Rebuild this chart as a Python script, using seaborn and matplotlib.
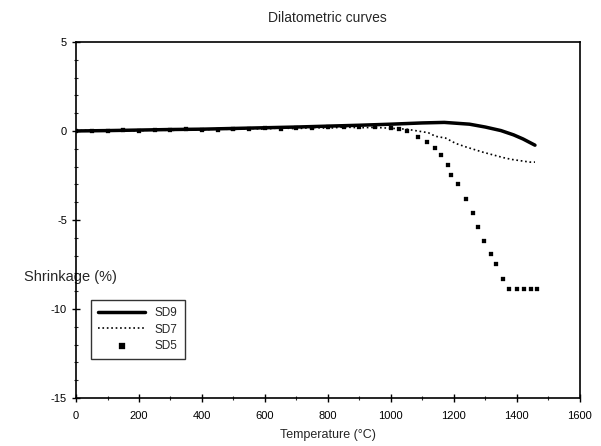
import matplotlib
matplotlib.use("Agg")
import matplotlib.pyplot as plt
from matplotlib.ticker import MultipleLocator
import pandas as pd
import seaborn as sns

# values
sd9_temp = [0, 100, 200, 300, 400, 500, 600, 700, 800, 900, 1000, 1100, 1170,
            1250, 1300, 1350, 1390, 1420, 1458]
sd9_shrink = [0.0, 0.02, 0.05, 0.08, 0.1, 0.14, 0.18, 0.22, 0.27, 0.32, 0.38, 0.45, 0.48,
              0.38, 0.22, 0.02, -0.22, -0.45, -0.8]

sd7_temp = [0, 50, 100, 150, 200, 250, 300, 350, 400, 450, 500, 550, 600, 650, 700,
            750, 800, 850, 900, 950, 1000, 1050, 1119, 1142, 1174, 1206, 1239, 1294,
            1358, 1384, 1442, 1458]
sd7_shrink = [0.0, 0.05, -0.02, 0.06, 0.0, 0.08, 0.02, 0.1, 0.05, 0.12, 0.08, 0.15, 0.1,
              0.18, 0.12, 0.2, 0.15, 0.22, 0.18, 0.2, 0.15, 0.1, -0.1, -0.3, -0.4, -0.7,
              -0.9, -1.2, -1.5, -1.6, -1.75, -1.75]

sd5_temp = [0, 50, 100, 150, 200, 250, 300, 350, 400, 450, 500, 550, 600, 650, 700,
            750, 800, 850, 900, 950, 1000, 1025, 1050, 1087, 1116, 1142, 1158, 1181,
            1190, 1213, 1239, 1261, 1277, 1297, 1319, 1335, 1358, 1377, 1400, 1423,
            1445, 1465]
sd5_shrink = [0.0, 0.02, -0.02, 0.04, 0.0, 0.06, 0.03, 0.1, 0.05, 0.08, 0.12, 0.1, 0.15,
              0.12, 0.18, 0.15, 0.2, 0.22, 0.2, 0.24, 0.15, 0.1, 0.0, -0.34, -0.62, -0.96,
              -1.35, -1.9, -2.5, -3.0, -3.8, -4.6, -5.4, -6.2, -6.9, -7.5, -8.3, -8.9,
              -8.9, -8.9, -8.9, -8.9]

df9 = pd.DataFrame({"t": sd9_temp, "s": sd9_shrink})
df7 = pd.DataFrame({"t": sd7_temp, "s": sd7_shrink})
df5 = pd.DataFrame({"t": sd5_temp, "s": sd5_shrink})

sns.set_style("ticks")
plt.rcParams["font.family"] = ["Liberation Sans", "DejaVu Sans"]
plt.rcParams["axes.unicode_minus"] = False

fig = plt.figure(figsize=(6.01, 4.46), dpi=100)
ax = fig.add_axes([0.1265, 0.1076, 0.838, 0.7984])

sns.lineplot(x="t", y="s", data=df9, color="black", linewidth=2.5, ax=ax, label="SD9")
sns.lineplot(x="t", y="s", data=df7, color="black", linewidth=1.2, linestyle=":",
             ax=ax, label="SD7")
sns.scatterplot(x="t", y="s", data=df5, color="black", marker="s", s=7,
                edgecolor="black", ax=ax, label="SD5")

ax.set_xlim(0, 1600)
ax.set_ylim(-15, 5)
ax.set_xticks([0, 200, 400, 600, 800, 1000, 1200, 1400, 1600])
ax.set_yticks([-15, -10, -5, 0, 5])
ax.yaxis.set_minor_locator(MultipleLocator(1))
ax.xaxis.set_minor_locator(MultipleLocator(100))
ax.tick_params(axis="both", which="major", direction="inout", length=6, width=1,
               labelsize=8, colors="black")
ax.tick_params(axis="x", which="major", pad=6)
ax.tick_params(axis="both", which="minor", direction="inout", length=3, width=0.8)
for side in ["top", "right", "left", "bottom"]:
    ax.spines[side].set_visible(True)
    ax.spines[side].set_color("black")
    ax.spines[side].set_linewidth(1.2)

ax.set_title("Dilatometric curves", fontsize=10, pad=14)
ax.set_xlabel("Temperature (°C)", fontsize=9, labelpad=6)
ax.set_ylabel("Shrinkage (%)", fontsize=10.5, rotation=0)
ax.yaxis.set_label_coords(-0.012, 0.32)

leg = ax.legend(loc="lower left", bbox_to_anchor=(0.03, 0.11), fontsize=8.5,
                frameon=True, fancybox=False, borderaxespad=0, handlelength=4,
                labelspacing=0.35, borderpad=0.6, markerscale=1.6)
leg.get_frame().set_edgecolor("black")
leg.get_frame().set_linewidth(1)

fig.savefig("out.png", dpi=100)
